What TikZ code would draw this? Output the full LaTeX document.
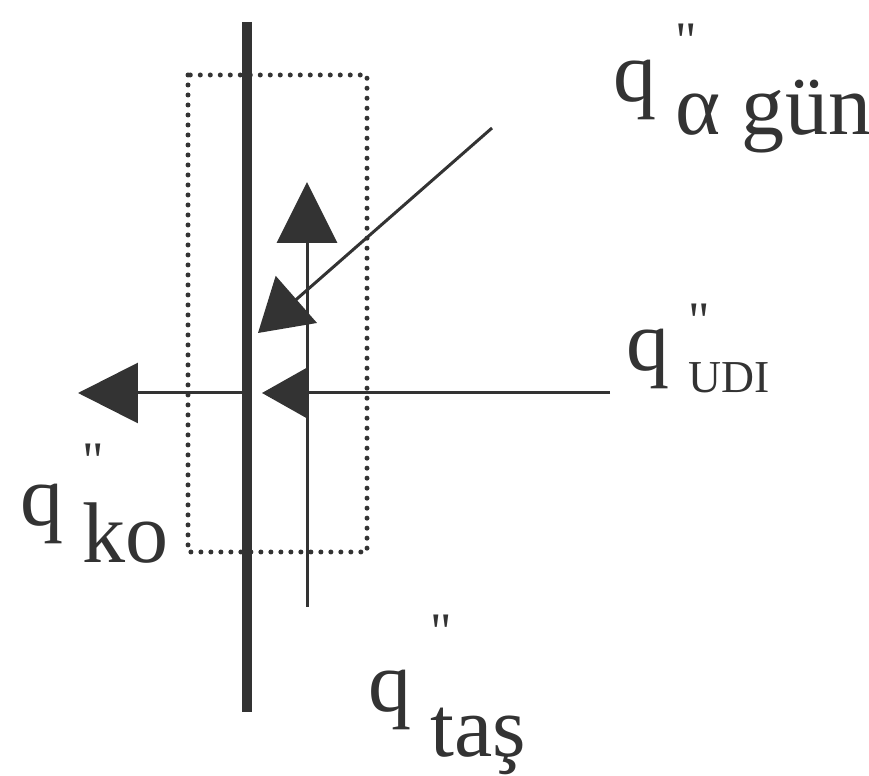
\documentclass[tikz,border=0pt]{standalone}
\usepackage{fontspec}
\setmainfont{Liberation Serif}
\usetikzlibrary{arrows.meta}
\colorlet{ink}{black!80}
\newcommand{\qmark}{\fontsize{30}{32}\selectfont\textquotedbl}
\newcommand{\qlab}[3]{q\hspace{0.22em}\rlap{\raisebox{#1}{\qmark}}\raisebox{-#2}{#3}}
\tikzset{
  wall/.style={draw=ink,line width=0.2cm},
  zonebox/.style={draw=ink,line width=0.1cm,line cap=round,dash pattern=on 0pt off 0.2cm},
  fluxArrow/.style={draw=ink,line width=0.06cm},
  fluxlabel/.style={anchor=base west,inner sep=0pt,text=ink,font=\fontsize{49}{55}\selectfont}
}

\begin{document}
\begin{tikzpicture}[x=0.02cm,y=-0.02cm]
  \useasboundingbox (0,0) rectangle (869,776);
  % control volume and wall
  \draw[zonebox] (188,75) rectangle (367,552);
  \coordinate (wallTop) at (247,22);
  \coordinate (wallBot) at (247,712);
  \draw[wall] (wallTop) -- (wallBot);
  % heat fluxes
  \coordinate (udiEnd) at (610,393);
  \coordinate (udiTip) at (262,393);
  \coordinate (koStart) at (247,393);
  \coordinate (koTip) at (78,393);
  \coordinate (tasEnd) at (307,607);
  \coordinate (tasTip) at (307,182);
  \coordinate (gunEnd) at (492,128);
  \coordinate (gunTip) at (258,333);
  \draw[fluxArrow,-{Triangle[length=0.9cm,width=1.0cm]}] (udiEnd) -- (udiTip);
  \draw[fluxArrow,-{Triangle[length=1.2cm,width=1.2cm]}] (koStart) -- (koTip);
  \draw[fluxArrow,-{Triangle[length=1.22cm,width=1.2cm]}] (tasEnd) -- (tasTip);
  \draw[fluxArrow,-{Triangle[length=1.02cm,width=1.24cm]}] (gunEnd) -- (gunTip);
  % labels
  \node[fluxlabel] (qgun) at (613,102) {\qlab{0.5em}{0.38em}{α gün}};
  \node[fluxlabel] (qudi) at (626,371) {\qlab{0.38em}{0.25em}{\fontsize{26}{28}\selectfont UDI}};
  \node[fluxlabel] (qko) at (20,526) {\qlab{0.55em}{0.42em}{ko}};
  \node[fluxlabel] (qtas) at (368,711) {\qlab{0.72em}{0.53em}{taş}};
\end{tikzpicture}
\end{document}
